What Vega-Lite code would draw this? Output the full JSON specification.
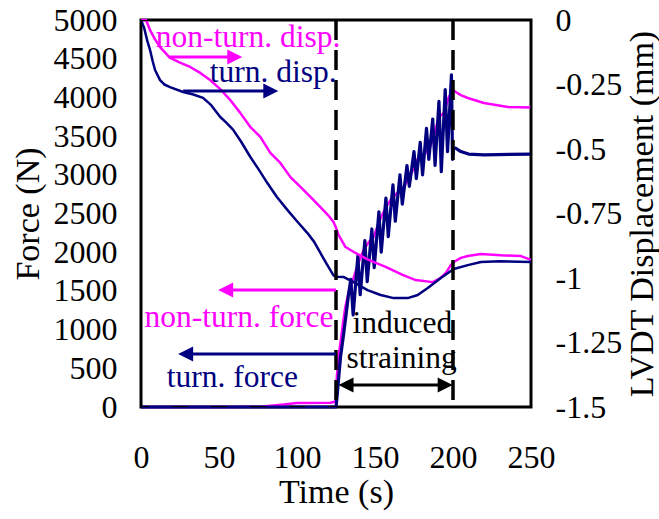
{
  "$schema": "https://vega.github.io/schema/vega-lite/v6.json",
  "width": 390,
  "height": 387,
  "autosize": {"type": "none"},
  "padding": {"left": 141, "top": 20, "right": 128, "bottom": 112},
  "background": "white",
  "config": {
    "view": {"stroke": "black", "strokeWidth": 3},
    "font": "Liberation Serif",
    "axis": {
      "domain": false,
      "ticks": false,
      "tickSize": 0,
      "grid": false,
      "labelFont": "Liberation Serif",
      "labelFontSize": 32,
      "labelColor": "black",
      "labelOverlap": false,
      "labelBound": false,
      "labelFlush": false,
      "titleFont": "Liberation Serif",
      "titleFontSize": 34,
      "titleFontWeight": "normal",
      "titleColor": "black"
    }
  },
  "datasets": {
    "force": [
      {"series": "non-turn", "t": 0, "F": 0},
      {"series": "non-turn", "t": 60, "F": 0},
      {"series": "non-turn", "t": 76.5, "F": 2},
      {"series": "non-turn", "t": 90, "F": 30},
      {"series": "non-turn", "t": 100, "F": 52},
      {"series": "non-turn", "t": 121.5, "F": 55},
      {"series": "non-turn", "t": 124.7, "F": 70},
      {"series": "non-turn", "t": 125.2, "F": 300},
      {"series": "non-turn", "t": 126.6, "F": 646},
      {"series": "non-turn", "t": 128, "F": 850},
      {"series": "non-turn", "t": 129.5, "F": 1085},
      {"series": "non-turn", "t": 131, "F": 1292},
      {"series": "non-turn", "t": 133, "F": 1473},
      {"series": "non-turn", "t": 135.6, "F": 1620},
      {"series": "non-turn", "t": 138.8, "F": 1835},
      {"series": "non-turn", "t": 142.7, "F": 2030},
      {"series": "non-turn", "t": 146, "F": 2130},
      {"series": "non-turn", "t": 149.1, "F": 2196},
      {"series": "non-turn", "t": 153.6, "F": 2442},
      {"series": "non-turn", "t": 157, "F": 2580},
      {"series": "non-turn", "t": 160, "F": 2675},
      {"series": "non-turn", "t": 164, "F": 2760},
      {"series": "non-turn", "t": 168.4, "F": 2842},
      {"series": "non-turn", "t": 172.9, "F": 2997},
      {"series": "non-turn", "t": 175.5, "F": 3120},
      {"series": "non-turn", "t": 178, "F": 3230},
      {"series": "non-turn", "t": 182.5, "F": 3282},
      {"series": "non-turn", "t": 185, "F": 3350},
      {"series": "non-turn", "t": 187, "F": 3450},
      {"series": "non-turn", "t": 190.9, "F": 3747},
      {"series": "non-turn", "t": 194.1, "F": 3798},
      {"series": "non-turn", "t": 197.3, "F": 4005},
      {"series": "non-turn", "t": 199.9, "F": 4096},
      {"series": "non-turn", "t": 201.8, "F": 4070},
      {"series": "non-turn", "t": 205, "F": 4030},
      {"series": "non-turn", "t": 209.5, "F": 3992},
      {"series": "non-turn", "t": 219.8, "F": 3928},
      {"series": "non-turn", "t": 235.2, "F": 3876},
      {"series": "non-turn", "t": 250, "F": 3870},
      {"series": "turn", "t": 0, "F": 0},
      {"series": "turn", "t": 125, "F": 0},
      {"series": "turn", "t": 125.6, "F": 120},
      {"series": "turn", "t": 126.6, "F": 349},
      {"series": "turn", "t": 127.9, "F": 646},
      {"series": "turn", "t": 129.8, "F": 930},
      {"series": "turn", "t": 131.5, "F": 1200},
      {"series": "turn", "t": 133, "F": 1450},
      {"series": "turn", "t": 134.5, "F": 1650},
      {"series": "turn", "t": 136, "F": 1190},
      {"series": "turn", "t": 139, "F": 1950},
      {"series": "turn", "t": 140.5, "F": 1450},
      {"series": "turn", "t": 143.5, "F": 2150},
      {"series": "turn", "t": 145, "F": 1620},
      {"series": "turn", "t": 148, "F": 2300},
      {"series": "turn", "t": 149.5, "F": 1800},
      {"series": "turn", "t": 152.5, "F": 2520},
      {"series": "turn", "t": 154, "F": 2000},
      {"series": "turn", "t": 157, "F": 2700},
      {"series": "turn", "t": 158.5, "F": 2200},
      {"series": "turn", "t": 161.5, "F": 2870},
      {"series": "turn", "t": 163, "F": 2400},
      {"series": "turn", "t": 166, "F": 3000},
      {"series": "turn", "t": 167.5, "F": 2620},
      {"series": "turn", "t": 170.5, "F": 3120},
      {"series": "turn", "t": 172, "F": 2850},
      {"series": "turn", "t": 175, "F": 3300},
      {"series": "turn", "t": 176.5, "F": 2950},
      {"series": "turn", "t": 179, "F": 3420},
      {"series": "turn", "t": 180.5, "F": 3000},
      {"series": "turn", "t": 183, "F": 3600},
      {"series": "turn", "t": 184.5, "F": 3200},
      {"series": "turn", "t": 187, "F": 3720},
      {"series": "turn", "t": 188.5, "F": 3120},
      {"series": "turn", "t": 191, "F": 3950},
      {"series": "turn", "t": 192.5, "F": 3040},
      {"series": "turn", "t": 195, "F": 4100},
      {"series": "turn", "t": 196.5, "F": 3300},
      {"series": "turn", "t": 199, "F": 4290},
      {"series": "turn", "t": 199.7, "F": 3200},
      {"series": "turn", "t": 200.3, "F": 3340},
      {"series": "turn", "t": 201.5, "F": 3346},
      {"series": "turn", "t": 205, "F": 3300},
      {"series": "turn", "t": 210, "F": 3268},
      {"series": "turn", "t": 220, "F": 3258},
      {"series": "turn", "t": 250, "F": 3268}
    ],
    "disp": [
      {"series": "non-turn", "t": 0, "D": 0},
      {"series": "non-turn", "t": 3.2, "D": 0},
      {"series": "non-turn", "t": 5.8, "D": -0.039},
      {"series": "non-turn", "t": 9, "D": -0.075},
      {"series": "non-turn", "t": 12.2, "D": -0.105},
      {"series": "non-turn", "t": 18.6, "D": -0.147},
      {"series": "non-turn", "t": 25, "D": -0.165},
      {"series": "non-turn", "t": 31.5, "D": -0.182},
      {"series": "non-turn", "t": 38, "D": -0.205},
      {"series": "non-turn", "t": 44.3, "D": -0.233},
      {"series": "non-turn", "t": 50.8, "D": -0.268},
      {"series": "non-turn", "t": 57.2, "D": -0.31},
      {"series": "non-turn", "t": 63.6, "D": -0.36},
      {"series": "non-turn", "t": 70.1, "D": -0.415},
      {"series": "non-turn", "t": 76.5, "D": -0.453},
      {"series": "non-turn", "t": 82.9, "D": -0.515},
      {"series": "non-turn", "t": 89.3, "D": -0.554},
      {"series": "non-turn", "t": 95.8, "D": -0.609},
      {"series": "non-turn", "t": 102.2, "D": -0.647},
      {"series": "non-turn", "t": 108.6, "D": -0.686},
      {"series": "non-turn", "t": 115, "D": -0.725},
      {"series": "non-turn", "t": 120, "D": -0.757},
      {"series": "non-turn", "t": 123.4, "D": -0.783},
      {"series": "non-turn", "t": 124.7, "D": -0.8},
      {"series": "non-turn", "t": 126.6, "D": -0.833},
      {"series": "non-turn", "t": 131.1, "D": -0.88},
      {"series": "non-turn", "t": 137.5, "D": -0.903},
      {"series": "non-turn", "t": 145.9, "D": -0.93},
      {"series": "non-turn", "t": 156.8, "D": -0.957},
      {"series": "non-turn", "t": 167.7, "D": -0.988},
      {"series": "non-turn", "t": 176.1, "D": -1.008},
      {"series": "non-turn", "t": 187, "D": -1.016},
      {"series": "non-turn", "t": 192, "D": -1.0},
      {"series": "non-turn", "t": 195.4, "D": -0.98},
      {"series": "non-turn", "t": 198.6, "D": -0.95},
      {"series": "non-turn", "t": 200.5, "D": -0.938},
      {"series": "non-turn", "t": 205, "D": -0.922},
      {"series": "non-turn", "t": 209.5, "D": -0.915},
      {"series": "non-turn", "t": 217.9, "D": -0.907},
      {"series": "non-turn", "t": 230.7, "D": -0.912},
      {"series": "non-turn", "t": 243.6, "D": -0.915},
      {"series": "non-turn", "t": 250, "D": -0.93},
      {"series": "turn", "t": 0, "D": 0},
      {"series": "turn", "t": 2, "D": -0.03},
      {"series": "turn", "t": 4, "D": -0.08},
      {"series": "turn", "t": 5.8, "D": -0.116},
      {"series": "turn", "t": 7.5, "D": -0.16},
      {"series": "turn", "t": 9, "D": -0.194},
      {"series": "turn", "t": 12.2, "D": -0.233},
      {"series": "turn", "t": 15, "D": -0.25},
      {"series": "turn", "t": 18.6, "D": -0.26},
      {"series": "turn", "t": 27, "D": -0.279},
      {"series": "turn", "t": 33, "D": -0.288},
      {"series": "turn", "t": 39.8, "D": -0.302},
      {"series": "turn", "t": 45, "D": -0.33},
      {"series": "turn", "t": 50.8, "D": -0.376},
      {"series": "turn", "t": 55, "D": -0.4},
      {"series": "turn", "t": 59.1, "D": -0.426},
      {"series": "turn", "t": 64, "D": -0.47},
      {"series": "turn", "t": 70.1, "D": -0.531},
      {"series": "turn", "t": 75, "D": -0.575},
      {"series": "turn", "t": 81, "D": -0.632},
      {"series": "turn", "t": 87, "D": -0.685},
      {"series": "turn", "t": 93.8, "D": -0.736},
      {"series": "turn", "t": 100, "D": -0.78},
      {"series": "turn", "t": 106.7, "D": -0.826},
      {"series": "turn", "t": 111, "D": -0.86},
      {"series": "turn", "t": 115, "D": -0.903},
      {"series": "turn", "t": 119, "D": -0.945},
      {"series": "turn", "t": 123.4, "D": -0.99},
      {"series": "turn", "t": 125, "D": -0.995},
      {"series": "turn", "t": 129.8, "D": -0.996},
      {"series": "turn", "t": 136.2, "D": -1.016},
      {"series": "turn", "t": 145.2, "D": -1.047},
      {"series": "turn", "t": 153.6, "D": -1.066},
      {"series": "turn", "t": 162, "D": -1.078},
      {"series": "turn", "t": 171, "D": -1.078},
      {"series": "turn", "t": 177.4, "D": -1.066},
      {"series": "turn", "t": 183.8, "D": -1.039},
      {"series": "turn", "t": 192.2, "D": -1.0},
      {"series": "turn", "t": 197, "D": -0.98},
      {"series": "turn", "t": 200.5, "D": -0.965},
      {"series": "turn", "t": 209.5, "D": -0.95},
      {"series": "turn", "t": 217.9, "D": -0.938},
      {"series": "turn", "t": 230, "D": -0.935},
      {"series": "turn", "t": 250, "D": -0.938}
    ],
    "phases": [{"t": 125}, {"t": 200}],
    "shafts": [
      {"series": "non-turn", "t1": 18.6, "t2": 58, "F": 4522},
      {"series": "turn", "t1": 27, "t2": 81, "F": 4083},
      {"series": "non-turn", "t1": 56, "t2": 125, "F": 1512},
      {"series": "turn", "t1": 30, "t2": 125, "F": 685},
      {"series": "both", "t1": 133, "t2": 193, "F": 284}
    ],
    "heads": [
      {"series": "non-turn", "dir": "right", "t": 60.1, "F": 4522},
      {"series": "turn", "dir": "right", "t": 83.2, "F": 4083},
      {"series": "non-turn", "dir": "left", "t": 54.3, "F": 1512},
      {"series": "turn", "dir": "left", "t": 28.6, "F": 685},
      {"series": "both", "dir": "left", "t": 131.4, "F": 284},
      {"series": "both", "dir": "right", "t": 195, "F": 284}
    ],
    "notes": [
      {"series": "non-turn", "t": 9.5, "F": 4650, "text": "non-turn. disp."},
      {"series": "turn", "t": 44, "F": 4199, "text": "turn. disp."},
      {"series": "non-turn", "t": 2.3, "F": 1034, "text": "non-turn. force"},
      {"series": "turn", "t": 16.5, "F": 258, "text": "turn. force"},
      {"series": "both", "t": 135.6, "F": 956, "text": "induced"},
      {"series": "both", "t": 131.7, "F": 504, "text": "straining"}
    ],
    "forceTicks": [
      {"F": 0}, {"F": 500}, {"F": 1000}, {"F": 1500}, {"F": 2000}, {"F": 2500},
      {"F": 3000}, {"F": 3500}, {"F": 4000}, {"F": 4500}, {"F": 5000}
    ],
    "dispTicks": [
      {"D": -1.5}, {"D": -1.375}, {"D": -1.25}, {"D": -1.125}, {"D": -1}, {"D": -0.875},
      {"D": -0.75}, {"D": -0.625}, {"D": -0.5}, {"D": -0.375}, {"D": -0.25}, {"D": -0.125}, {"D": 0}
    ],
    "timeTicks": [
      {"t": 0}, {"t": 25}, {"t": 50}, {"t": 75}, {"t": 100}, {"t": 125},
      {"t": 150}, {"t": 175}, {"t": 200}, {"t": 225}, {"t": 250}
    ]
  },
  "layer": [
    {
      "data": {"name": "force"},
      "mark": {"type": "line", "strokeJoin": "round"},
      "encoding": {
        "x": {
          "field": "t",
          "type": "quantitative",
          "scale": {"domain": [0, 250], "nice": false},
          "axis": {
            "orient": "bottom",
            "title": "Time (s)",
            "values": [0, 50, 100, 150, 200, 250],
            "labelPadding": 35,
            "titlePadding": 2
          }
        },
        "y": {
          "field": "F",
          "type": "quantitative",
          "scale": {"domain": [0, 5000], "nice": false},
          "axis": {
            "orient": "left",
            "title": "Force (N)",
            "format": "d",
            "values": [0, 500, 1000, 1500, 2000, 2500, 3000, 3500, 4000, 4500, 5000],
            "labelPadding": 24,
            "titlePadding": 8
          }
        },
        "color": {
          "field": "series",
          "type": "nominal",
          "scale": {"domain": ["non-turn", "turn", "both"], "range": ["#FF00FF", "#000080", "#000000"]},
          "legend": null
        },
        "size": {
          "field": "series",
          "type": "nominal",
          "scale": {"domain": ["non-turn", "turn"], "range": [2.5, 3.2]},
          "legend": null
        }
      }
    },
    {
      "data": {"name": "disp"},
      "mark": {"type": "line", "strokeWidth": 2.5, "strokeJoin": "round"},
      "encoding": {
        "x": {"field": "t", "type": "quantitative"},
        "y": {
          "field": "D",
          "type": "quantitative",
          "scale": {"domain": [-1.5, 0], "nice": false},
          "axis": {
            "orient": "right",
            "title": "LVDT Displacement (mm)",
            "titleAngle": 270,
            "titleBaseline": "top",
            "values": [-1.5, -1.25, -1, -0.75, -0.5, -0.25, 0],
            "labelExpr": "'' + datum.value",
            "labelPadding": 24,
            "titlePadding": 4
          }
        },
        "color": {"field": "series", "type": "nominal", "legend": null}
      }
    },
    {
      "data": {"name": "phases"},
      "mark": {"type": "rule", "color": "black", "strokeWidth": 3.5, "strokeDash": [20, 10]},
      "encoding": {
        "x": {"field": "t", "type": "quantitative"}
      }
    },
    {
      "data": {"name": "shafts"},
      "mark": {"type": "rule", "strokeWidth": 3},
      "encoding": {
        "x": {"field": "t1", "type": "quantitative"},
        "x2": {"field": "t2"},
        "y": {"field": "F", "type": "quantitative", "scale": {"domain": [0, 5000], "nice": false}, "axis": null},
        "color": {"field": "series", "type": "nominal", "legend": null}
      }
    },
    {
      "data": {"name": "heads"},
      "mark": {"type": "point", "filled": true, "opacity": 1, "size": 225, "strokeWidth": 0},
      "encoding": {
        "x": {"field": "t", "type": "quantitative"},
        "y": {"field": "F", "type": "quantitative", "scale": {"domain": [0, 5000], "nice": false}, "axis": null},
        "shape": {
          "field": "dir",
          "type": "nominal",
          "scale": {"domain": ["right", "left"], "range": ["M-1,-1L1,0L-1,1Z", "M1,-1L-1,0L1,1Z"]},
          "legend": null
        },
        "color": {"field": "series", "type": "nominal", "legend": null}
      }
    },
    {
      "data": {"name": "notes"},
      "mark": {"type": "text", "align": "left", "baseline": "alphabetic", "fontSize": 31.5, "font": "Liberation Serif"},
      "encoding": {
        "x": {"field": "t", "type": "quantitative"},
        "y": {"field": "F", "type": "quantitative", "scale": {"domain": [0, 5000], "nice": false}, "axis": null},
        "text": {"field": "text"},
        "color": {"field": "series", "type": "nominal", "legend": null}
      }
    },
    {
      "data": {"name": "forceTicks"},
      "mark": {"type": "tick", "orient": "vertical", "color": "black", "size": 20, "thickness": 2, "opacity": 1, "clip": true},
      "encoding": {
        "x": {"datum": 0, "type": "quantitative"},
        "y": {"field": "F", "type": "quantitative", "scale": {"domain": [0, 5000], "nice": false}, "axis": null}
      }
    },
    {
      "data": {"name": "dispTicks"},
      "mark": {"type": "tick", "orient": "vertical", "color": "black", "size": 20, "thickness": 2, "opacity": 1, "clip": true},
      "encoding": {
        "x": {"datum": 250, "type": "quantitative"},
        "y": {"field": "D", "type": "quantitative", "scale": {"domain": [-1.5, 0], "nice": false}, "axis": null}
      }
    },
    {
      "data": {"name": "timeTicks"},
      "mark": {"type": "tick", "orient": "horizontal", "color": "black", "size": 16, "thickness": 2, "opacity": 1, "clip": true},
      "encoding": {
        "x": {"field": "t", "type": "quantitative"},
        "y": {"datum": 0, "type": "quantitative", "scale": {"domain": [0, 5000], "nice": false}, "axis": null}
      }
    },
    {
      "data": {"name": "timeTicks"},
      "mark": {"type": "tick", "orient": "horizontal", "color": "black", "size": 16, "thickness": 2, "opacity": 1, "clip": true},
      "encoding": {
        "x": {"field": "t", "type": "quantitative"},
        "y": {"datum": 5000, "type": "quantitative", "scale": {"domain": [0, 5000], "nice": false}, "axis": null}
      }
    }
  ],
  "resolve": {"scale": {"y": "independent"}}
}
